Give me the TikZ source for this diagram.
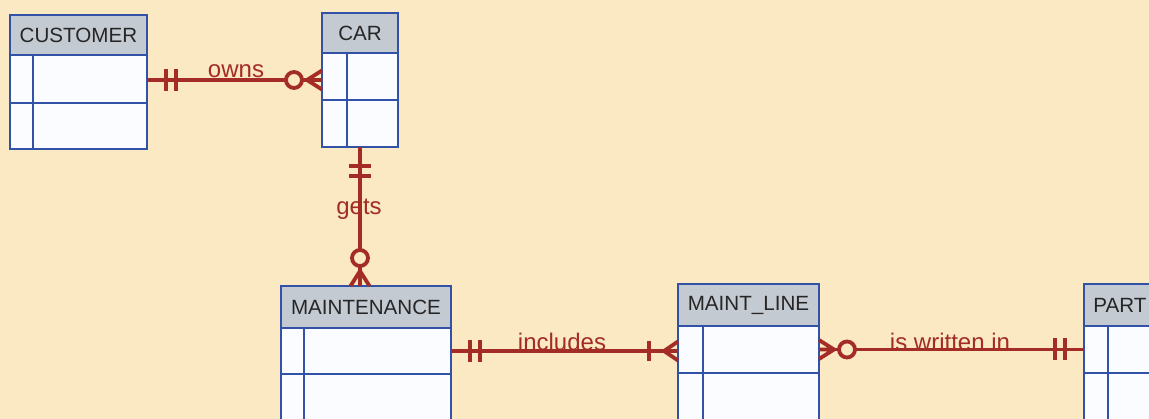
\documentclass[tikz,border=0pt]{standalone}
\usepackage{fontspec}
\setmainfont{Liberation Sans}
\usetikzlibrary{calc}
\definecolor{bgc}{RGB}{250,233,195}
\definecolor{relred}{RGB}{163,44,38}
\definecolor{boxblue}{RGB}{50,82,168}
\definecolor{hdrgray}{RGB}{196,202,210}
\definecolor{rowwhite}{RGB}{251,252,255}
\tikzset{
  hdr/.style={draw=boxblue, fill=hdrgray, line width=2.6pt, inner sep=0pt, outer sep=0pt,
    anchor=north west, text=black!85, font=\fontsize{20.6}{24}\selectfont},
  erow/.style={draw=boxblue, fill=rowwhite, line width=2.6pt, inner sep=0pt, outer sep=0pt,
    anchor=north west},
  boxline/.style={draw=boxblue, line width=2.6pt},
  rel/.style={draw=relred, line width=3.8pt},
  lbl/.style={text=relred, inner sep=0pt, anchor=base, font=\fontsize{24}{28}\selectfont},
  oneone/.pic={\draw[rel] (19,-11) -- (19,11) (29,-11) -- (29,11);},
  zeromany/.pic={\draw[rel, line join=round] (0,-9.5) -- (15,0) -- (0,9.5) (0,0) -- (15,0);
    \draw[rel, fill=bgc] (28,0) circle[radius=8pt];},
  onemany/.pic={\draw[rel, line join=round] (0,-9.5) -- (14,0) -- (0,9.5) (0,0) -- (14,0);
    \draw[rel] (29,-10) -- (29,10);},
}
\begin{document}
\begin{tikzpicture}[x=1pt,y=-1pt]
\useasboundingbox (0,0) rectangle (1149,419);
\fill[bgc] (0,0) rectangle (1149,419);
\clip (0,0) rectangle (1149,419);

% CUSTOMER
\node[hdr, minimum width=137pt, minimum height=40pt] (custH) at (10,15) {CUSTOMER};
\node[erow, minimum width=137pt, minimum height=48pt] (custR1) at (custH.south west) {};
\node[erow, minimum width=137pt, minimum height=46pt] (custR2) at (custR1.south west) {};
\draw[boxline] ($(custR1.north west)+(23,0)$) -- ($(custR2.south west)+(23,0)$);

% CAR
\node[hdr, minimum width=76pt, minimum height=40pt] (carH) at (322,13) {CAR};
\node[erow, minimum width=76pt, minimum height=47pt] (carR1) at (carH.south west) {};
\node[erow, minimum width=76pt, minimum height=47pt] (carR2) at (carR1.south west) {};
\draw[boxline] ($(carR1.north west)+(25,0)$) -- ($(carR2.south west)+(25,0)$);

% MAINTENANCE
\node[hdr, minimum width=170pt, minimum height=42pt] (mtH) at (281,286) {MAINTENANCE};
\node[erow, minimum width=170pt, minimum height=46pt] (mtR1) at (mtH.south west) {};
\node[erow, minimum width=170pt, minimum height=52pt] (mtR2) at (mtR1.south west) {};
\draw[boxline] ($(mtR1.north west)+(23,0)$) -- ($(mtR2.south west)+(23,0)$);

% MAINT_LINE
\node[hdr, minimum width=141pt, minimum height=42pt] (mlH) at (678,284) {MAINT\_LINE};
\node[erow, minimum width=141pt, minimum height=47pt] (mlR1) at (mlH.south west) {};
\node[erow, minimum width=141pt, minimum height=52pt] (mlR2) at (mlR1.south west) {};
\draw[boxline] ($(mlR1.north west)+(25,0)$) -- ($(mlR2.south west)+(25,0)$);

% PART
\node[hdr, minimum width=72pt, minimum height=42pt] (ptH) at (1084,284) {PART};
\node[erow, minimum width=72pt, minimum height=47pt] (ptR1) at (ptH.south west) {};
\node[erow, minimum width=72pt, minimum height=52pt] (ptR2) at (ptR1.south west) {};
\draw[boxline] ($(ptR1.north west)+(24,0)$) -- ($(ptR2.south west)+(24,0)$);

% connector end points
\coordinate (ownsA) at ($(custR1.east)+(0,1)$);
\coordinate (ownsB) at (ownsA -| carR1.west);
\coordinate (getsA) at (carR2.south);
\coordinate (getsB) at (getsA |- mtH.north);
\coordinate (inclA) at (mtR1.east);
\coordinate (inclB) at (inclA -| mlR1.west);
\coordinate (writA) at (mlR1.east);
\coordinate (writB) at (writA -| ptR1.west);

% connectors
\draw[rel] (ownsA) -- (ownsB);
\draw[rel] (getsA) -- (getsB);
\draw[rel] (inclA) -- (inclB);
\draw[rel] (writA) -- (writB);

% cardinality marks
\pic at (ownsA) {oneone};
\pic[rotate=180] at (ownsB) {zeromany};
\pic[rotate=-90] at (getsA) {oneone};
\pic[rotate=90] at (getsB) {zeromany};
\pic at (inclA) {oneone};
\pic[rotate=180] at (inclB) {onemany};
\pic at (writA) {zeromany};
\pic[rotate=180] at (writB) {oneone};

% labels
\node[lbl] (lOwns) at (236,78) {owns};
\node[lbl] (lGets) at (359,215) {gets};
\node[lbl] (lIncl) at (562,351) {includes};
\node[lbl] (lWrit) at (950,351) {is written in};
\end{tikzpicture}
\end{document}
